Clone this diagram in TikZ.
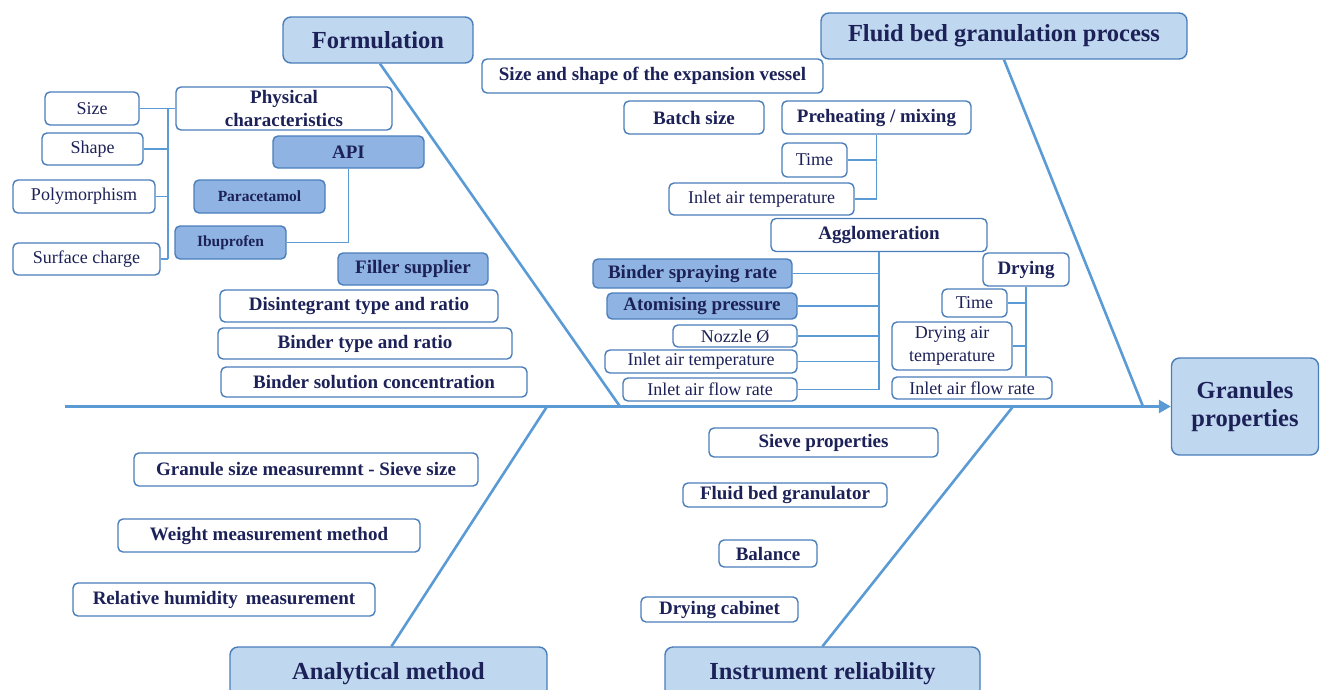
\documentclass[tikz,border=0pt]{standalone}
\usepackage{fontspec}
\setmainfont{Liberation Serif}
\usepackage{tikz}
\usetikzlibrary{arrows.meta}
\usepackage{xcolor}
\definecolor{navy}{HTML}{1C2157}
\definecolor{boxline}{HTML}{4A7EBB}
\definecolor{bonecol}{HTML}{5B9BD5}
\definecolor{headfill}{HTML}{C0D7F0}
\definecolor{midfill}{HTML}{8FB4E3}

\begin{document}
\begin{tikzpicture}[x=1pt,y=-1pt,
    every node/.style={text=navy, inner sep=0pt, align=center},
    sz/.style 2 args={minimum width=#1pt, minimum height=#2pt},
    bx/.style={draw=boxline, line width=1.4pt, rounded corners=5pt, fill=white,
        font=\bfseries\fontsize{19}{22}\selectfont},
    rg/.style={bx, font=\fontsize{18}{22}\selectfont},
    mid/.style={bx, fill=midfill},
    small/.style={font=\bfseries\fontsize{15.5}{18}\selectfont},
    head/.style={bx, fill=headfill, rounded corners=8pt,
        font=\bfseries\fontsize{24.5}{28}\selectfont},
    bone/.style={draw=bonecol, line width=2.6pt},
    twig/.style={draw=bonecol, line width=1.8pt}]
        \useasboundingbox (0,0) rectangle (1322,689);
        % main headings
        \node (form) at (378,40) [head, sz={190}{46}] {Formulation};
        \node (fbg) at (1004,36) [head, sz={366}{46}] {Fluid bed granulation process};
        \node (gran) at (1245,406.5) [head, sz={147}{97}] {Granules\\properties};
        \node (anal) at (388.5,674) [head, sz={317}{54}] {Analytical method};
        \node (inst) at (822.5,674) [head, sz={315}{54}] {Instrument reliability};
        % spine and bones
        \coordinate (tail) at (65,406.5);
        \coordinate (jf) at (620,406.5);
        \coordinate (jp) at (1143,406.5);
        \coordinate (ja) at (547,406.5);
        \coordinate (ji) at (1013,406.5);
        \draw[bone, -{Triangle[length=12pt,width=13pt]}] (tail) -- (gran.west);
        \draw[bone] ([xshift=2pt]form.south) -- (jf);
        \draw[bone] (fbg.south) -- (jp);
        \draw[bone] ([xshift=3pt]anal.north) -- (ja);
        \draw[bone] (inst.north) -- (ji);
        % formulation
        \node (size) at (92,108.5) [rg, sz={94}{33}] {Size};
        \node (shape) at (92.5,149) [rg, sz={101}{32}] {Shape};
        \node (poly) at (84,196.5) [rg, sz={142}{33}] {Polymorphism};
        \node (surf) at (86.5,259) [rg, sz={147}{32}] {Surface charge};
        \node (phys) at (284,108.5) [bx, sz={216}{43}, font=\bfseries\fontsize{19}{23}\selectfont] {Physical\\characteristics};
        \node (api) at (348.5,152) [mid, sz={151}{32}] {API};
        \node (para) at (259.5,196.5) [mid, small, sz={131}{33}] {Paracetamol};
        \node (ibu) at (230.5,242.5) [mid, small, sz={111}{33}] {Ibuprofen};
        \node (filler) at (413,269) [mid, sz={150}{32}] {Filler supplier};
        \node (disint) at (359,306) [bx, sz={278}{32}] {Disintegrant type and ratio};
        \node (bindtype) at (365,343.5) [bx, sz={294}{31}] {Binder type and ratio};
        \node (bindsol) at (374,382) [bx, sz={306}{30}] {Binder solution concentration};
        \coordinate (pc) at (168,0);
        \draw[twig] (size.east) -- (phys.west);
        \draw[twig] (pc |- size.east) -- (pc |- surf.east);
        \foreach \n in {shape,poly,surf}
            \draw[twig] (\n.east) -- (pc |- \n.east);
        \draw[twig] (api.south) |- (ibu.east);
        % fluid bed granulation process
        \node (vessel) at (652.5,76) [bx, sz={341}{34}] {Size and shape of the expansion vessel};
        \node (batch) at (694,117.5) [bx, sz={140}{33}] {Batch size};
        \node (preh) at (876.5,117.5) [bx, sz={189}{33}] {Preheating / mixing};
        \node (ptime) at (814.5,160) [rg, sz={65}{34}] {Time};
        \node (ptemp) at (761.5,199) [rg, sz={185}{32}] {Inlet air temperature};
        \draw[twig] (preh.south) -- (preh.south |- ptemp.east);
        \foreach \n in {ptime,ptemp}
            \draw[twig] (\n.east) -- (preh.south |- \n.east);
        \node (aggl) at (879,235) [bx, sz={216}{33}] {Agglomeration};
        \node (spray) at (692.5,273.5) [mid, sz={199}{29}] {Binder spraying rate};
        \node (atom) at (702,306) [mid, sz={190}{26}] {Atomising pressure};
        \node (nozzle) at (735,336) [rg, sz={124}{22}] {Nozzle Ø};
        \node (atemp) at (701,361.5) [rg, sz={192}{23}] {Inlet air temperature};
        \node (aflow) at (710,389.5) [rg, sz={174}{23}] {Inlet air flow rate};
        \draw[twig] (aggl.south) -- (aggl.south |- aflow.east);
        \foreach \n in {spray,atom,nozzle,atemp,aflow}
            \draw[twig] (\n.east) -- (aggl.south |- \n.east);
        \node (dry) at (1026,269.5) [bx, sz={86}{33}] {Drying};
        \node (dtime) at (974.5,303) [rg, sz={65}{28}] {Time};
        \node (dtemp) at (952,346) [rg, sz={120}{48}, font=\fontsize{18}{23}\selectfont] {Drying air\\temperature};
        \node (dflow) at (972,388) [rg, sz={160}{22}] {Inlet air flow rate};
        \draw[twig] (dry.south) -- (dry.south |- dflow.north);
        \foreach \n in {dtime,dtemp}
            \draw[twig] (\n.east) -- (dry.south |- \n.east);
        % analytical method
        \node (gsize) at (306,469.5) [bx, sz={344}{33}] {Granule size measuremnt - Sieve size};
        \node (weight) at (269,535.5) [bx, sz={302}{33}] {Weight measurement method};
        \node (relhum) at (224,599.5) [bx, sz={302}{33}] {Relative humidity\, measurement};
        % instrument reliability
        \node (sieve) at (823.5,442.5) [bx, sz={229}{29}] {Sieve properties};
        \node (fbgran) at (785,495) [bx, sz={204}{24}] {Fluid bed granulator};
        \node (balance) at (768,553.5) [bx, sz={98}{27}] {Balance};
        \node (cabinet) at (719.5,609.5) [bx, sz={157}{25}] {Drying cabinet};
\end{tikzpicture}
\end{document}
